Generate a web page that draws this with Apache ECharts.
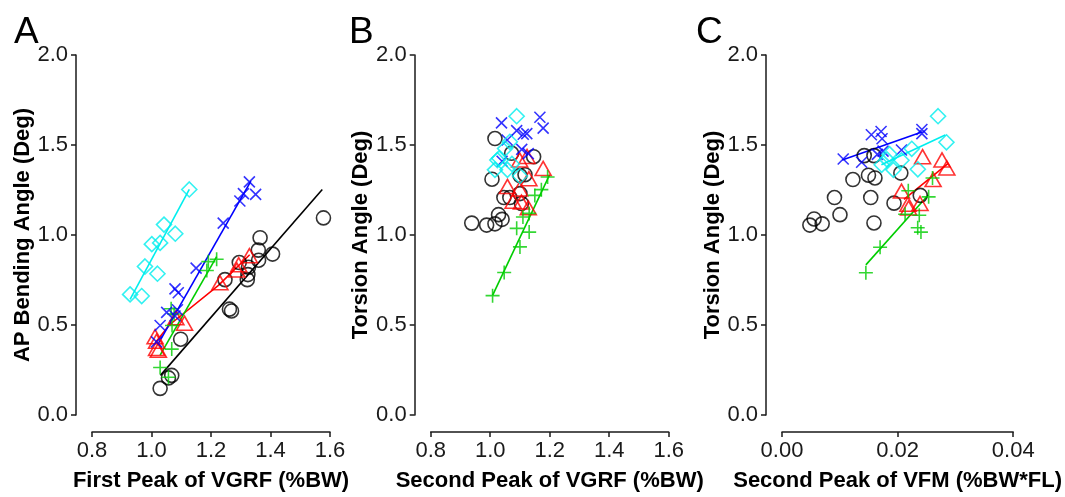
<!DOCTYPE html>
<html>
<head>
<meta charset="utf-8">
<script src="https://cdn.jsdelivr.net/npm/echarts@6/dist/echarts.min.js"></script>
<style>
html,body{margin:0;padding:0;background:#fff;}
#chart{width:1065px;height:497px;}
</style>
</head>
<body>
<div id="chart"></div>
<script>
// ---------- Panel A: First Peak of VGRF vs AP Bending Angle ----------
const A_circles = [[1.578,1.095],[1.365,0.985],[1.359,0.916],[1.407,0.894],[1.295,0.847],[1.360,0.860],[1.326,0.821],[1.324,0.780],[1.322,0.752],[1.247,0.752],[1.262,0.588],[1.269,0.578],[1.098,0.421],[1.068,0.220],[1.057,0.206],[1.029,0.148]];
const A_triangles = [[1.329,0.885],[1.293,0.835],[1.287,0.805],[1.230,0.735],[1.111,0.510],[1.082,0.540],[1.012,0.435],[1.017,0.410],[1.017,0.370],[1.023,0.360]];
const A_plus = [[1.219,0.865],[1.191,0.852],[1.186,0.803],[1.066,0.590],[1.076,0.561],[1.069,0.497],[1.068,0.366],[1.029,0.264],[1.057,0.210]];
const A_cross = [[1.329,1.295],[1.309,1.230],[1.350,1.226],[1.297,1.189],[1.241,1.066],[1.150,0.816],[1.079,0.701],[1.090,0.679],[1.051,0.570],[1.079,0.550],[1.087,0.585],[1.029,0.497],[1.017,0.406]];
const A_diamonds = [[1.127,1.253],[1.042,1.058],[1.080,1.007],[1.001,0.949],[1.029,0.956],[0.978,0.825],[1.020,0.785],[0.928,0.670],[0.967,0.661]];
const A_fitBlack = [[1.030,0.220],[1.574,1.253]];
const A_fitRed = [[1.012,0.400],[1.060,0.500],[1.225,0.720],[1.330,0.890]];
const A_fitGreen = [[1.029,0.333],[1.219,0.880]];
const A_fitBlue = [[1.020,0.388],[1.334,1.299]];
const A_fitCyan = [[0.928,0.643],[1.127,1.253]];

// ---------- Panel B: Second Peak of VGRF vs Torsion Angle ----------
const B_circles = [[1.016,1.536],[1.146,1.435],[1.072,1.454],[1.006,1.310],[1.117,1.335],[1.100,1.330],[1.046,1.208],[1.066,1.208],[1.100,1.230],[1.105,1.175],[0.938,1.066],[0.988,1.055],[1.016,1.062],[1.028,1.113],[1.040,1.087]];
const B_triangles = [[1.178,1.370],[1.124,1.436],[1.099,1.417],[1.130,1.313],[1.058,1.270],[1.099,1.256],[1.077,1.188],[1.105,1.183],[1.128,1.151]];
const B_plus = [[1.008,0.663],[1.047,0.792],[1.100,0.934],[1.089,1.037],[1.131,1.016],[1.110,1.100],[1.131,1.120],[1.150,1.220],[1.172,1.252],[1.193,1.322]];
const B_cross = [[1.038,1.623],[1.167,1.654],[1.178,1.594],[1.089,1.580],[1.111,1.560],[1.123,1.563],[1.057,1.528],[1.106,1.476],[1.128,1.452],[1.040,1.410]];
const B_diamonds = [[1.089,1.660],[1.066,1.518],[1.050,1.480],[1.030,1.426],[1.016,1.362],[1.058,1.362],[1.073,1.395],[1.100,1.328],[1.024,1.416]];
const B_fitGreen = [[1.008,0.665],[1.200,1.335]];

// ---------- Panel C: Second Peak of VFM vs Torsion Angle ----------
const C_circles = [[0.00482,1.055],[0.00555,1.089],[0.00695,1.062],[0.00908,1.208],[0.01003,1.113],[0.01227,1.308],[0.01423,1.441],[0.01591,1.441],[0.01496,1.332],[0.01608,1.317],[0.01535,1.208],[0.01591,1.067],[0.01938,1.177],[0.02056,1.344],[0.02392,1.220]];
const C_triangles = [[0.02432,1.435],[0.02768,1.417],[0.02852,1.372],[0.02614,1.308],[0.02067,1.244],[0.02179,1.171],[0.02388,1.175],[0.02190,1.150]];
const C_plus = [[0.01451,0.790],[0.01697,0.932],[0.02130,1.115],[0.02375,1.110],[0.02348,1.040],[0.02404,1.016],[0.02185,1.246],[0.02537,1.212],[0.02604,1.317]];
const C_cross = [[0.01059,1.422],[0.01378,1.404],[0.01546,1.557],[0.01714,1.575],[0.01731,1.535],[0.01748,1.466],[0.02067,1.472],[0.02420,1.586],[0.02420,1.563],[0.01650,1.448]];
const C_diamonds = [[0.02700,1.660],[0.02845,1.515],[0.02245,1.479],[0.02350,1.365],[0.02067,1.415],[0.01927,1.362],[0.01860,1.449],[0.01725,1.390],[0.01815,1.420]];
const C_fitBlue = [[0.01042,1.417],[0.02432,1.573]];
const C_fitCyan = [[0.01720,1.390],[0.02824,1.555]];
const C_fitRed = [[0.02110,1.198],[0.02870,1.396]];
const C_fitGreen = [[0.01451,0.834],[0.02530,1.222]];

// ---------- Axis text ----------
const panelLetters = ['A','B','C'];
const yTitles = ['AP Bending Angle (Deg)','Torsion Angle (Deg)','Torsion Angle (Deg)'];
const xTitles = ['First Peak of VGRF (%BW)','Second Peak of VGRF (%BW)','Second Peak of VFM (%BW*FL)'];
const xRanges = [[0.8,1.6,0.2],[0.8,1.6,0.2],[0,0.04,0.02]];
const xDecimals = [1,1,2];
const yRange = [0,2,0.5];

const FONT = '"Liberation Sans", Arial, sans-serif';
const COL = {black:'#000000', red:'#ff0000', green:'#00cd00', blue:'#0000ff', cyan:'#00eeee'};
const SYM = {
  circle:{symbol:'circle', size:14},
  triangle:{symbol:'triangle', size:[16,14]},
  plus:{symbol:'path://M1,0L1,2M0,1L2,1', size:14},
  cross:{symbol:'path://M0,0L2,2M0,2L2,0', size:11},
  diamond:{symbol:'diamond', size:[15,15]}
};

const gridLefts = [92, 430.7, 782];
const grids = gridLefts.map(l => ({left:l, top:55, width:238, height:366, containLabel:false}));

const xAxes = [], yAxes = [];
for (let i = 0; i < 3; i++) {
  xAxes.push({
    gridIndex:i, type:'value', min:xRanges[i][0], max:xRanges[i][1], interval:xRanges[i][2],
    offset:17, name:xTitles[i], nameLocation:'middle', nameGap:38,
    nameTextStyle:{fontFamily:FONT, fontSize:22, fontWeight:'bold', color:'#000'},
    axisLine:{show:true, onZero:false, lineStyle:{color:'#1a1a1a', width:1.5}},
    axisTick:{show:true, length:5, lineStyle:{color:'#1a1a1a', width:1.5}},
    axisLabel:{fontFamily:FONT, fontSize:22, color:'#1a1a1a', margin:8,
      formatter:(v => v.toFixed(xDecimals[i]))},
    splitLine:{show:false}
  });
  yAxes.push({
    gridIndex:i, type:'value', min:yRange[0], max:yRange[1], interval:yRange[2],
    offset:16, name:yTitles[i], nameLocation:'middle', nameGap:42,
    nameTextStyle:{fontFamily:FONT, fontSize:22, fontWeight:'bold', color:'#000'},
    axisLine:{show:true, onZero:false, lineStyle:{color:'#1a1a1a', width:1.5}},
    axisTick:{show:true, length:5, lineStyle:{color:'#1a1a1a', width:1.5}},
    axisLabel:{fontFamily:FONT, fontSize:22, color:'#1a1a1a', margin:8,
      formatter:(v => v.toFixed(1))},
    splitLine:{show:false}
  });
}

const series = [];
function pts(data, kind, color, gi) {
  series.push({
    type:'scatter', xAxisIndex:gi, yAxisIndex:gi, data:data,
    symbol:SYM[kind].symbol, symbolSize:SYM[kind].size,
    itemStyle:{color:'rgba(0,0,0,0)', borderColor:color, borderWidth:1.6},
    silent:true, z:3
  });
}
function fit(data, color, gi) {
  series.push({
    type:'line', xAxisIndex:gi, yAxisIndex:gi, data:data, symbol:'none',
    lineStyle:{color:color, width:1.6}, silent:true, z:2
  });
}

// Panel A
fit(A_fitBlack, COL.black, 0); fit(A_fitRed, COL.red, 0); fit(A_fitGreen, COL.green, 0);
fit(A_fitBlue, COL.blue, 0); fit(A_fitCyan, COL.cyan, 0);
pts(A_circles,'circle',COL.black,0); pts(A_triangles,'triangle',COL.red,0);
pts(A_plus,'plus',COL.green,0); pts(A_cross,'cross',COL.blue,0); pts(A_diamonds,'diamond',COL.cyan,0);
// Panel B
fit(B_fitGreen, COL.green, 1);
pts(B_circles,'circle',COL.black,1); pts(B_triangles,'triangle',COL.red,1);
pts(B_plus,'plus',COL.green,1); pts(B_cross,'cross',COL.blue,1); pts(B_diamonds,'diamond',COL.cyan,1);
// Panel C
fit(C_fitBlue, COL.blue, 2); fit(C_fitCyan, COL.cyan, 2); fit(C_fitRed, COL.red, 2); fit(C_fitGreen, COL.green, 2);
pts(C_circles,'circle',COL.black,2); pts(C_triangles,'triangle',COL.red,2);
pts(C_plus,'plus',COL.green,2); pts(C_cross,'cross',COL.blue,2); pts(C_diamonds,'diamond',COL.cyan,2);

const letterX = [14, 349, 696];
const graphic = panelLetters.map((t, i) => ({
  type:'text', left:letterX[i], top:14,
  style:{text:t, fontFamily:FONT, fontSize:37, fill:'#000'}
}));

const chart = echarts.init(document.getElementById('chart'), null, {renderer:'canvas'});
chart.setOption({
  animation:false,
  backgroundColor:'#fff',
  grid:grids, xAxis:xAxes, yAxis:yAxes, series:series, graphic:graphic
});
</script>
</body>
</html>
